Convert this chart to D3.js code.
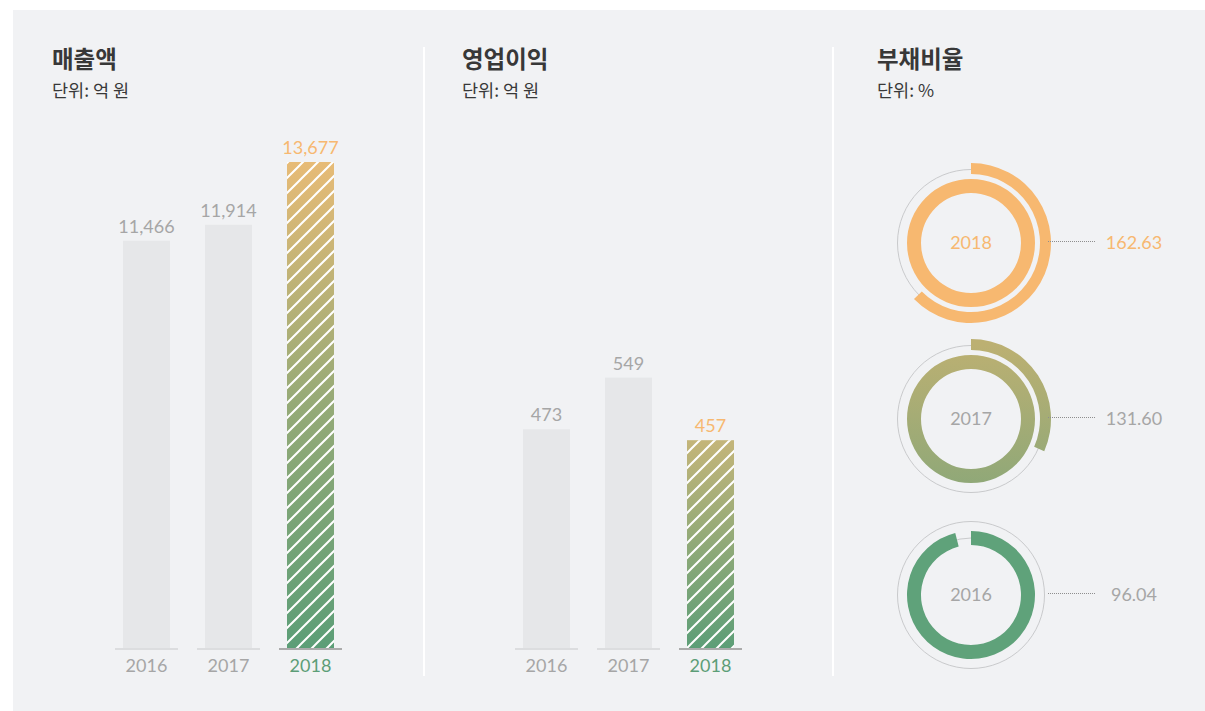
<!DOCTYPE html>
<html>
<head>
<meta charset="utf-8">
<script src="https://cdn.jsdelivr.net/npm/d3@7"></script>
<style>
  body { margin: 0; background: #fff; }
  text { font-family: Lato, "Noto Sans", sans-serif; }
  .title { font-family: "Noto Sans CJK KR", "Noto Sans", sans-serif; font-weight: 700; font-size: 23.5px; fill: #383838; }
  .unit { font-family: "Noto Sans CJK KR", "Noto Sans", sans-serif; font-weight: 400; font-size: 17.5px; fill: #383838; }
</style>
</head>
<body>
<div id="chart"></div>
<script>
//Chart data
const years = ["2016", "2017", "2018"];
const salesValues = [11466, 11914, 13677];
const profitValues = [473, 549, 457];
const debtValues = [96.04, 131.60, 162.63];
const panelTitles = ["매출액", "영업이익", "부채비율"];
const panelUnits = ["단위: 억 원", "단위: 억 원", "단위: %"];

const width = 1205;
const height = 711;
const baseY = 649;
const topY = 162;

const orange = "#f7b870";
const green = "#5c9e77";
const grey = "#a6a6a6";

const svg = d3.select("#chart").append("svg").attr("width", width).attr("height", height);
const defs = svg.append("defs");

//Background panel
svg.append("rect").attr("x", 13).attr("y", 10).attr("width", width - 13).attr("height", height - 10).attr("fill", "#f1f2f4");

//Dividers
[424, 833].forEach(x => {
    svg.append("line").attr("x1", x).attr("x2", x).attr("y1", 47).attr("y2", 676)
        .attr("stroke", "#fff").attr("stroke-width", 2);
});

//Titles
const titleX = [52, 462, 877];
panelTitles.forEach((t, i) => {
    svg.append("text").attr("class", "title").attr("x", titleX[i]).attr("y", 68).text(t);
    svg.append("text").attr("class", "unit").attr("x", titleX[i]).attr("y", 97).text(panelUnits[i]);
});

//Gradients
const makeGradient = (id, stops) => {
    const g = defs.append("linearGradient").attr("id", id)
        .attr("x1", 0).attr("y1", 0).attr("x2", 0).attr("y2", 1);
    stops.forEach(s => g.append("stop").attr("offset", s[0]).attr("stop-color", s[1]));
};
makeGradient("salesGrad", [[0, "#e7bb76"], [0.5, "#95aa77"], [1, green]]);
makeGradient("profitGrad", [[0, "#c4b579"], [1, green]]);

//Hatch pattern
const hatch = defs.append("pattern").attr("id", "hatch").attr("patternUnits", "userSpaceOnUse")
    .attr("width", 15).attr("height", 15);
hatch.append("path").attr("d", "M-2,17 L17,-2 M-4,4 L4,-4 M11,19 L19,11")
    .attr("stroke", "#fff").attr("stroke-width", 2);

//Bar charts
const drawBars = (values, x0, yDomain, gradId, fmt) => {
    const x = d3.scaleBand().domain(years).range([x0, x0 + 246])
        .paddingInner(35 / 82).paddingOuter(35 / 164);
    const y = d3.scaleLinear().domain(yDomain).range([baseY, topY]);
    const g = svg.append("g");
    const last = years.length - 1;

    g.selectAll("rect.bar").data(values).enter().append("rect")
        .attr("class", "bar")
        .attr("x", (d, i) => x(years[i]))
        .attr("y", d => y(d))
        .attr("width", x.bandwidth())
        .attr("height", d => baseY - y(d))
        .attr("fill", (d, i) => i === last ? `url(#${gradId})` : "#e6e7e9");

    g.selectAll("rect.hatch").data(values.slice(last)).enter().append("rect")
        .attr("x", x(years[last]))
        .attr("y", d => y(d))
        .attr("width", x.bandwidth())
        .attr("height", d => baseY - y(d))
        .attr("fill", "url(#hatch)");

    g.selectAll("line.base").data(years).enter().append("line")
        .attr("x1", d => x(d) - 8)
        .attr("x2", d => x(d) + x.bandwidth() + 8)
        .attr("y1", baseY).attr("y2", baseY)
        .attr("stroke", (d, i) => i === last ? "#ababab" : "#dcdddf")
        .attr("stroke-width", 2);

    g.selectAll("text.value").data(values).enter().append("text")
        .attr("x", (d, i) => x(years[i]) + x.bandwidth() / 2)
        .attr("y", d => y(d) - 8)
        .attr("text-anchor", "middle")
        .attr("font-size", 18)
        .attr("fill", (d, i) => i === last ? orange : grey)
        .text(d => fmt(d));

    g.selectAll("text.year").data(years).enter().append("text")
        .attr("x", d => x(d) + x.bandwidth() / 2)
        .attr("y", 672)
        .attr("text-anchor", "middle")
        .attr("font-size", 18)
        .attr("fill", (d, i) => i === last ? green : grey)
        .text(d => d);
};

drawBars(salesValues, 105.5, [0, 13677], "salesGrad", d3.format(","));
drawBars(profitValues, 505.5, [150, 866], "profitGrad", d3.format(","));

//Donuts
const cx = 971;
const cy = d3.scalePoint().domain(years.slice().reverse()).range([243, 595]);
const tau = 2 * Math.PI;
const innerArc = d3.arc().innerRadius(50).outerRadius(64).startAngle(0);
const outerArc = d3.arc().innerRadius(69).outerRadius(80).startAngle(0);

//Gradient for the middle ring, in the ring's own coordinates
const mg = defs.append("linearGradient").attr("id", "midGrad").attr("gradientUnits", "userSpaceOnUse")
    .attr("x1", 0).attr("x2", 0).attr("y1", -75).attr("y2", 68);
mg.append("stop").attr("offset", 0).attr("stop-color", "#bcb072");
mg.append("stop").attr("offset", 1).attr("stop-color", "#8fa878");

const donutFill = ["#5fa27a", "url(#midGrad)", orange];

debtValues.forEach((v, i) => {
    const yr = years[i];
    const g = svg.append("g").attr("transform", `translate(${cx}, ${cy(yr)})`);
    g.append("circle").attr("r", 73.5).attr("fill", "none").attr("stroke", "#c9cacc").attr("stroke-width", 1);
    g.append("circle").attr("r", 57).attr("fill", "none").attr("stroke", "#c9cacc").attr("stroke-width", 1);
    g.append("path").attr("d", innerArc({ endAngle: Math.min(v, 100) / 100 * tau })).attr("fill", donutFill[i]);
    if (v > 100) {
        g.append("path").attr("d", outerArc({ endAngle: (v - 100) / 100 * tau })).attr("fill", donutFill[i]);
    }
    const isLast = i === years.length - 1;
    g.append("text").attr("y", 6).attr("text-anchor", "middle").attr("font-size", 18)
        .attr("fill", isLast ? orange : grey).text(yr);
    g.append("line").attr("x1", 77).attr("x2", 124).attr("y1", -1.5).attr("y2", -1.5)
        .attr("stroke", "#8e8e8e").attr("stroke-width", 1).attr("stroke-dasharray", "1,1");
    g.append("text").attr("x", 163).attr("y", 6).attr("text-anchor", "middle").attr("font-size", 18)
        .attr("fill", isLast ? orange : grey).text(d3.format(".2f")(v));
});
</script>
</body>
</html>
